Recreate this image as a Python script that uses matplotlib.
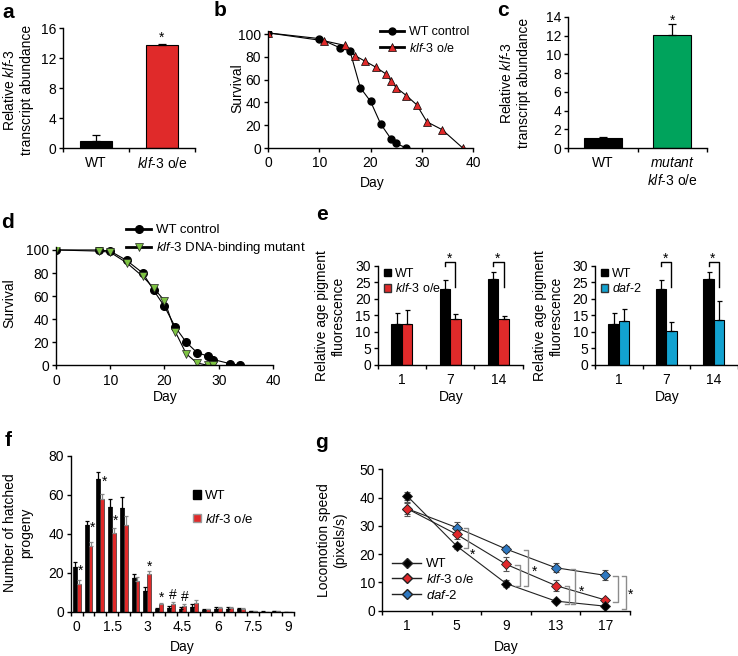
import matplotlib
matplotlib.use('Agg')
import matplotlib.pyplot as plt
import numpy as np
from matplotlib.lines import Line2D
from matplotlib.patches import Patch

plt.rcParams.update({
    'font.family': ['Liberation Sans', 'DejaVu Sans'],
    'font.size': 10,
    'mathtext.fontset': 'custom',
    'mathtext.rm': 'Liberation Sans',
    'mathtext.it': 'Liberation Sans:italic',
    'mathtext.bf': 'Liberation Sans:bold',
    'axes.linewidth': 1.0,
    'xtick.major.width': 1.0, 'ytick.major.width': 1.0,
    'xtick.minor.width': 1.0,
    'xtick.major.size': 3, 'ytick.major.size': 3, 'xtick.minor.size': 3,
    'xtick.direction': 'out', 'ytick.direction': 'out',
    'xtick.major.pad': 3, 'ytick.major.pad': 2,
})

KLF = r'$\mathit{klf}$-$\mathit{3}$'

# ---------------- data ----------------
# a
a_groups = ['WT', KLF + ' o/e']
a_vals = [1.0, 13.8]
a_err = [0.75, 0.1]
# b
b_wt_day = [0, 10, 14, 16, 18, 20, 22, 24, 25, 27]
b_wt_surv = [101, 96, 88, 85, 53, 41, 21, 8, 4, 0]
b_klf_day = [0, 11, 15, 17, 19, 21, 23, 24, 25, 27, 29, 31, 34, 38]
b_klf_surv = [101, 94, 90, 81, 76, 71, 65, 59, 53, 46, 38, 23, 16, 0]
# c
c_groups = ['WT', r'$\mathit{mutant}$' + '\n' + KLF + ' o/e']
c_vals = [1.1, 12.1]
c_err = [0.05, 1.2]
# d
d_wt_day = [0, 8, 10, 13, 16, 18, 20, 22, 24, 26, 28, 29, 32, 34]
d_wt_surv = [100, 100, 99, 91, 80, 65, 51, 33, 20, 11, 8, 5, 1.5, 0]
d_mut_day = [0, 8, 10, 13, 16, 18, 20, 22, 24, 26, 28, 29]
d_mut_surv = [100, 99, 98, 89, 77, 67, 56, 29, 10, 2, 0, 0]
# e
e_days = ['1', '7', '14']
e_wt = [12.3, 22.9, 26.0]
e_wt_err = [3.3, 2.8, 2.0]
e_klf = [12.5, 13.8, 14.0]
e_klf_err = [4.1, 1.5, 0.9]
e_daf = [13.3, 10.2, 13.5]
e_daf_err = [3.5, 2.8, 5.8]
# f
f_days = [0, 0.5, 1, 1.5, 2, 2.5, 3, 3.5, 4, 4.5, 5, 5.5, 6, 6.5, 7, 7.5, 8, 8.5, 9]
f_wt = [22.7, 44.4, 68.0, 53.8, 53.0, 17.3, 10.8, 1.3, 2.0, 1.5, 2.6, 0.9, 1.5, 1.4, 1.2, 0.2, 0.1, 0.4, 0]
f_wt_err = [2.9, 2.1, 3.5, 3.8, 5.6, 1.8, 2.0, 0.5, 0.8, 0.7, 1.2, 0.3, 0.8, 0.8, 0.8, 0.1, 0.1, 0.2, 0]
f_klf = [14.2, 33.7, 57.6, 40.5, 44.4, 15.9, 19.1, 3.8, 3.8, 2.9, 4.6, 1.2, 2.0, 1.7, 1.5, 0.2, 0, 0.2, 0]
f_klf_err = [2.0, 1.9, 2.7, 2.2, 4.6, 1.7, 1.8, 0.9, 1.0, 0.9, 1.4, 0.3, 0.5, 0.5, 0.5, 0.1, 0, 0.1, 0]
f_marks = [(0, '*'), (1, '*'), (2, '*'), (3, '*'), (6, '*'), (7, '*'), (8, '#'), (9, '#')]
# g
g_days = ['1', '5', '9', '13', '17']
g_wt = [40.6, 22.9, 9.6, 3.4, 1.6]
g_wt_err = [1.5, 1.0, 1.2, 0.6, 0.5]
g_klf = [36.1, 27.0, 16.4, 8.9, 3.8]
g_klf_err = [2.0, 1.5, 2.5, 1.8, 0.8]
g_daf = [36.1, 29.4, 21.8, 15.2, 12.5]
g_daf_err = [2.5, 2.0, 1.0, 1.5, 1.8]

RED = '#e02a2a'
GREEN = '#00a35c'
CYAN = '#12a2d0'
LGREEN = '#7dc242'
GRED = '#e0282b'
GBLUE = '#2f78c0'

W, H = 738, 656
fig = plt.figure(figsize=(W / 100, H / 100), dpi=100)


def axp(l, t, r, b):
    ax = fig.add_axes([l / W, 1 - b / H, (r - l) / W, (b - t) / H])
    for s in ('top', 'right'):
        ax.spines[s].set_visible(False)
    return ax


def ftext(x, y, s, **kw):
    return fig.text(x / W, 1 - y / H, s, **kw)


def ylab(x, y, s):
    ftext(x, y, s, rotation=90, ha='center', va='center', multialignment='center', linespacing=1.25)


def letter(x, y, s):
    ftext(x, y, s, ha='center', va='center', fontsize=15, fontweight='bold')


def mark(ax, x, y, s='*', size=10, color='black'):
    off = -0.57 * size if s == '*' else -0.36 * size
    ax.annotate(s, (x, y), xytext=(0, off), textcoords='offset points', ha='center',
                va='baseline', fontsize=size, color=color, annotation_clip=False)


def cat_axis(ax, n, labels, label_idx=None):
    ax.set_xlim(-0.5, n - 0.5)
    idx = list(range(n)) if label_idx is None else label_idx
    ax.set_xticks(idx)
    ax.set_xticklabels(labels)
    ax.set_xticks(np.arange(-0.5, n + 0.5, 1.0), minor=True)
    ax.tick_params(axis='x', which='major', length=0, pad=6)
    ax.tick_params(axis='x', which='minor', length=3)


def upper_err(ax, x, y, e, color='black', cap=3):
    ax.errorbar(x, y, yerr=[np.zeros(len(e)), e], fmt='none', ecolor=color,
                elinewidth=0.9, capsize=cap, capthick=0.9)


def legend(ax, handles, labels, x, y, **kw):
    opts = dict(loc='upper left', bbox_to_anchor=(x / W, 1 - y / H), bbox_transform=fig.transFigure,
                frameon=False, fontsize=9, borderpad=0, borderaxespad=0, labelspacing=0.3,
                handletextpad=0.4)
    opts.update(kw)
    ax.legend(handles, labels, **opts)

# ---------------- panel a ----------------
ax = axp(63, 28, 195, 148)
xa = np.arange(len(a_vals))
ax.bar(xa, a_vals, width=0.49, color=['black', RED], edgecolor='black', linewidth=0.8)
upper_err(ax, xa, a_vals, a_err)
ax.set_ylim(0, 16)
ax.set_yticks([0, 4, 8, 12, 16])
cat_axis(ax, 2, a_groups)
mark(ax, 1, 15.2)
ylab(18, 90, 'Relative ' + KLF + '\ntranscript abundance')
letter(8, 12, 'a')

# ---------------- panel b ----------------
ax = axp(268, 30.6, 473, 148)
ax.plot(b_wt_day, b_wt_surv, color='black', lw=0.8, marker='o', ms=5, mfc='black', mec='black')
ax.plot(b_klf_day, b_klf_surv, color='black', lw=0.8, marker='^', ms=5.5, mfc=RED, mec='black', mew=0.5)
ax.set_xlim(0, 40)
ax.set_ylim(0, 103)
ax.set_xticks([0, 10, 20, 30, 40])
ax.set_yticks([0, 20, 40, 60, 80, 100])
ylab(237, 88, 'Survival')
ftext(372, 183, 'Day', ha='center', va='center')
hb = [Line2D([], [], color='black', lw=2, marker='o', ms=5, mfc='black'),
      Line2D([], [], color='black', lw=2, marker='^', ms=5.5, mfc=RED, mec='black', mew=0.5)]
legend(ax, hb, ['WT control', KLF + ' o/e'], 380, 26, handlelength=1.9, fontsize=9)
letter(220, 11, 'b')

# ---------------- panel c ----------------
ax = axp(568, 17, 707, 148)
xc = np.arange(len(c_vals))
ax.bar(xc, c_vals, width=0.55, color=['black', GREEN], edgecolor='black', linewidth=0.8)
upper_err(ax, xc, c_vals, c_err)
ax.set_ylim(0, 14)
ax.set_yticks(range(0, 15, 2))
cat_axis(ax, 2, c_groups)
mark(ax, 1, 14.0)
ylab(515, 83, 'Relative ' + KLF + '\ntranscript abundance')
letter(503, 10, 'c')

# ---------------- panel d ----------------
ax = axp(56, 246.5, 273, 365.3)
ax.plot(d_wt_day, d_wt_surv, color='black', lw=0.8, marker='o', ms=5.5, mfc='black', mec='black')
ax.plot(d_mut_day, d_mut_surv, color='black', lw=0.8, marker='v', ms=6, mfc=LGREEN, mec='#222222', mew=0.5)
ax.set_xlim(0, 40)
ax.set_ylim(0, 103)
ax.set_xticks([0, 10, 20, 30, 40])
ax.set_yticks([0, 20, 40, 60, 80, 100])
ylab(9, 303, 'Survival')
ftext(165, 397, 'Day', ha='center', va='center')
hd = [Line2D([], [], color='black', lw=2, marker='o', ms=5.5, mfc='black'),
      Line2D([], [], color='black', lw=2, marker='v', ms=6, mfc=LGREEN, mec='#222222', mew=0.5)]
legend(ax, hd, ['WT control', KLF + ' DNA-binding mutant'], 126, 224, handlelength=1.9, fontsize=9.5)
letter(8, 223, 'd')

# ---------------- panel e ----------------
def panel_e(l, r, vals, errs, col, name, lx, ylx):
    ax = axp(l, 265.5, r, 365)
    x = np.arange(3)
    bw = 0.22
    ax.bar(x - bw / 2, e_wt, width=bw, color='black', edgecolor='black', linewidth=0.8)
    ax.bar(x + bw / 2, vals, width=bw, color=col, edgecolor='black', linewidth=0.8)
    upper_err(ax, x - bw / 2, e_wt, e_wt_err, cap=1.8)
    upper_err(ax, x + bw / 2, vals, errs, cap=1.8)
    ax.set_ylim(0, 30)
    ax.set_yticks(range(0, 31, 5))
    cat_axis(ax, 3, e_days)
    for i in (1, 2):
        xs = [i - bw / 2, i - bw / 2, i + bw / 2, i + bw / 2]
        ys = [29.7, 31, 31, 23.5]
        ax.plot(xs, ys, color='black', lw=1.0, clip_on=False)
        mark(ax, i - 0.02, 33.2, size=10)
    he = [Patch(facecolor='black', edgecolor='black'), Patch(facecolor=col, edgecolor='#333333')]
    legend(ax, he, ['WT', name], lx, 268, handlelength=0.55, handleheight=0.55, fontsize=9,
           labelspacing=0.2, handletextpad=0.35)
    ylab(ylx, 316, 'Relative age pigment\nfluorescence')
    ftext((l + r) / 2 + 1, 397, 'Day', ha='center', va='center')
    return ax

panel_e(377.7, 522.6, e_klf, e_klf_err, RED, KLF + ' o/e', 384, 330)
panel_e(595, 737.5, e_daf, e_daf_err, CYAN, r'$\mathit{daf}$-$\mathit{2}$', 601, 548)
letter(322, 215, 'e')

# ---------------- panel f ----------------
ax = axp(71, 455.7, 294, 611.7)
n = len(f_days)
xf = np.arange(n)
bw = 0.33
ax.bar(xf - bw / 2, f_wt, width=bw, color='black', edgecolor='black', linewidth=0.5)
ax.bar(xf + bw / 2, f_klf, width=bw, color=RED, edgecolor='#333333', linewidth=0.5)
upper_err(ax, xf - bw / 2, f_wt, f_wt_err, cap=1.5)
upper_err(ax, xf + bw / 2, f_klf, f_klf_err, color='#8a8a8a', cap=1.5)
ax.set_ylim(0, 80)
ax.set_yticks(range(0, 81, 20))
cat_axis(ax, n, [f'{d:g}' for d in f_days[::3]], label_idx=list(range(0, n, 3)))
for i, s in f_marks:
    top = max(f_wt[i] + f_wt_err[i], f_klf[i] + f_klf_err[i])
    if i in (0, 1, 2, 3):
        mark(ax, i + 0.33, f_wt[i] + 0.5 if i != 3 else f_klf[i] + 8, s)
    else:
        mark(ax, i + 0.17, top + 4.2, s)
ylab(18, 533, 'Number of hatched\nprogeny')
ftext(182, 647, 'Day', ha='center', va='center')
hf = [Patch(facecolor='black', edgecolor='black'), Patch(facecolor=RED, edgecolor='#999999')]
legend(ax, hf, ['WT', KLF + ' o/e'], 193, 490, handlelength=0.6, handleheight=0.6, fontsize=9.5,
       labelspacing=0.8, handletextpad=0.3)
letter(8, 441, 'f')

# ---------------- panel g ----------------
ax = axp(382.3, 469.3, 630, 610.7)
xg = np.arange(len(g_days))
for vals, errs, col in ((g_daf, g_daf_err, GBLUE), (g_klf, g_klf_err, GRED), (g_wt, g_wt_err, 'black')):
    ax.errorbar(xg, vals, yerr=errs, fmt='none', ecolor='#555555', elinewidth=0.8, capsize=2, capthick=0.8)
    ax.plot(xg, vals, color='#222222', lw=0.8, marker='D', ms=5, mfc=col, mec='#222222', mew=0.6)
ax.set_ylim(0, 50)
ax.set_yticks(range(0, 51, 10))
cat_axis(ax, len(g_days), g_days)
series = {'wt': g_wt, 'klf': g_klf, 'daf': g_daf}
g_brackets = [(1, 0.24, 'daf', 'wt', (0.32, -1.8)),
              (2, 0.27, 'klf', 'wt', None),
              (2, 0.45, 'daf', 'wt', (0.57, 15.0)),
              (3, 0.27, 'klf', 'wt', None),
              (3, 0.39, 'daf', 'wt', (0.53, 8.2)),
              (4, 0.25, 'daf', 'klf', None),
              (4, 0.42, 'daf', 'wt', (0.52, 6.9))]
for i, dx, s1, s2, st in g_brackets:
    y1 = series[s1][i] - 0.3
    y2 = series[s2][i] - 0.9
    xb = i + dx
    ax.plot([xb - 0.09, xb, xb, xb - 0.09], [y1, y1, y2, y2], color='#8c8c8c', lw=1.0, clip_on=False)
    if st is not None:
        sx, sy = st
        if sy < 0:
            sy = series['wt'][i] + sy
        mark(ax, i + sx, sy, size=10)
ylab(332, 540, 'Locomotion speed\n(pixels/s)')
ftext(506, 647, 'Day', ha='center', va='center')
hg = [Line2D([], [], color='#222222', lw=1, marker='D', ms=5, mfc='black', mec='#222222'),
      Line2D([], [], color='#222222', lw=1, marker='D', ms=5, mfc=GRED, mec='#222222'),
      Line2D([], [], color='#222222', lw=1, marker='D', ms=5, mfc=GBLUE, mec='#222222')]
legend(ax, hg, ['WT', KLF + ' o/e', r'$\mathit{daf}$-$\mathit{2}$'], 392, 558, handlelength=2.2,
       fontsize=9.5, labelspacing=0.2)
letter(322, 443, 'g')

fig.savefig('out.png', dpi=100)
